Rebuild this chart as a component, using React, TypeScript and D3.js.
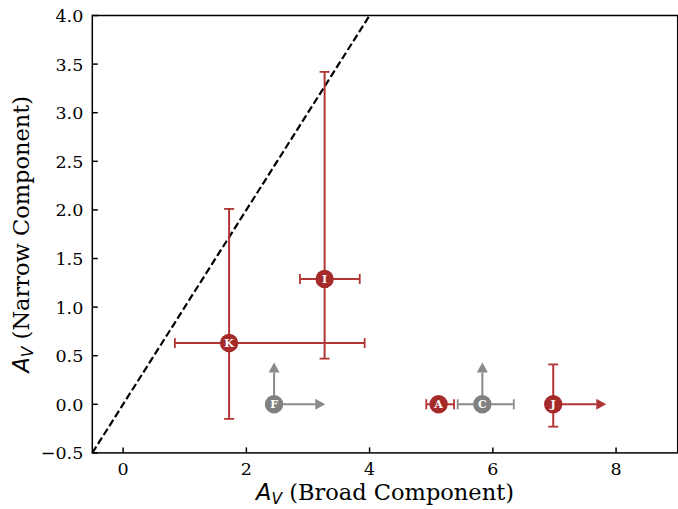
import React from "react";
import * as d3 from "d3";

const labels = ["K", "I", "F", "A", "C", "J"];
const xVals = [1.72, 3.27, 2.45, 5.12, 5.83, 6.98];
const yVals = [0.63, 1.29, 0, 0, 0, 0];
const xLo: (number | null)[] = [0.84, 2.87, null, 4.92, 5.43, null];
const xHi: (number | null)[] = [3.92, 3.84, null, 5.37, 6.34, null];
const yLo: (number | null)[] = [-0.15, 0.47, null, null, null, -0.23];
const yHi: (number | null)[] = [2.01, 3.42, null, null, null, 0.41];
const xArrowTo: (number | null)[] = [null, null, 3.28, null, null, 7.84];
const yArrowTo: (number | null)[] = [null, null, 0.43, null, 0.43, null];
const groups = ["det", "det", "lim", "det", "lim", "det"];
const xTicks = [0, 2, 4, 6, 8];
const yTicks = [-0.5, 0, 0.5, 1, 1.5, 2, 2.5, 3, 3.5, 4];
const oneToOne = [-0.5, 4.5];

const W = 678;
const H = 509;
const left = 92.3;
const right = 677.7;
const top = 15.5;
const bottom = 452.9;

const colors: Record<string, { mark: string; bar: string }> = {
  det: { mark: "#a52a2a", bar: "#b03535" },
  lim: { mark: "#808080", bar: "#8a8a8a" },
};

export default function App() {
  const x = d3.scaleLinear().domain([-0.5, 9]).range([left, right]);
  const y = d3.scaleLinear().domain([-0.5, 4]).range([bottom, top]);
  const serif = "'DejaVu Serif', serif";
  const sans = "'DejaVu Sans', sans-serif";
  const cap = 5;
  const lineGen = d3
    .line<number>()
    .x((d) => x(d))
    .y((d) => y(d));

  const arrow = (
    x0: number,
    y0: number,
    x1: number,
    y1: number,
    color: string,
    key: string
  ) => {
    const dx = x1 - x0;
    const dy = y1 - y0;
    const len = Math.hypot(dx, dy);
    const ux = dx / len;
    const uy = dy / len;
    const hl = 10;
    const hw = 5.5;
    const bx = x1 - ux * hl;
    const by = y1 - uy * hl;
    const px = -uy;
    const py = ux;
    return (
      <g key={key}>
        <line x1={x0} y1={y0} x2={bx} y2={by} stroke={color} strokeWidth={2} />
        <path
          d={`M${x1},${y1}L${bx + px * hw},${by + py * hw}L${bx - px * hw},${by - py * hw}Z`}
          fill={color}
        />
      </g>
    );
  };

  return (
    <svg
      width={W}
      height={H}
      style={{ position: "absolute", left: 0, top: 0, background: "#fff" }}
    >
      <defs>
        <clipPath id="plotclip">
          <rect x={left} y={top} width={right - left} height={bottom - top} />
        </clipPath>
      </defs>
      <rect x={0} y={0} width={W} height={H} fill="#fff" />

      <path
        d={lineGen(oneToOne) || ""}
        clipPath="url(#plotclip)"
        fill="none"
        stroke="#000"
        strokeWidth={2.2}
        strokeDasharray="7.4,3.2"
      />

      {labels.map((lab, i) => {
        const c = colors[groups[i]];
        const cx = x(xVals[i]);
        const cy = y(yVals[i]);
        const els: React.ReactNode[] = [];
        const lo = xLo[i];
        const hi = xHi[i];
        if (lo !== null && hi !== null) {
          els.push(
            <line key="xb" x1={x(lo)} x2={x(hi)} y1={cy} y2={cy} stroke={c.bar} strokeWidth={2} />,
            <line key="xc1" x1={x(lo)} x2={x(lo)} y1={cy - cap} y2={cy + cap} stroke={c.bar} strokeWidth={1.8} />,
            <line key="xc2" x1={x(hi)} x2={x(hi)} y1={cy - cap} y2={cy + cap} stroke={c.bar} strokeWidth={1.8} />
          );
        }
        const ylo = yLo[i];
        const yhi = yHi[i];
        if (ylo !== null && yhi !== null) {
          els.push(
            <line key="yb" x1={cx} x2={cx} y1={y(ylo)} y2={y(yhi)} stroke={c.bar} strokeWidth={2} />,
            <line key="yc1" x1={cx - cap} x2={cx + cap} y1={y(ylo)} y2={y(ylo)} stroke={c.bar} strokeWidth={1.8} />,
            <line key="yc2" x1={cx - cap} x2={cx + cap} y1={y(yhi)} y2={y(yhi)} stroke={c.bar} strokeWidth={1.8} />
          );
        }
        const xa = xArrowTo[i];
        if (xa !== null) els.push(arrow(cx, cy, x(xa), cy, c.bar, "xa"));
        const ya = yArrowTo[i];
        if (ya !== null) els.push(arrow(cx, cy, cx, y(ya), c.bar, "ya"));
        return <g key={lab}>{els}</g>;
      })}

      {labels.map((lab, i) => {
        const c = colors[groups[i]];
        const cx = x(xVals[i]);
        const cy = y(yVals[i]);
        return (
          <g key={"m" + lab}>
            <circle cx={cx} cy={cy} r={9.2} fill={c.mark} />
            <text
              x={cx}
              y={cy + 4}
              textAnchor="middle"
              fill="#fff"
              fontFamily={serif}
              fontWeight="bold"
              fontSize={11}
            >
              {lab}
            </text>
          </g>
        );
      })}

      {/* spines */}
      <rect
        x={left}
        y={top}
        width={right - left}
        height={bottom - top}
        fill="none"
        stroke="#000"
        strokeWidth={1.5}
      />

      {xTicks.map((t) => (
        <g key={"xt" + t}>
          <line x1={x(t)} x2={x(t)} y1={bottom} y2={bottom - 5.5} stroke="#000" strokeWidth={1.5} />
          <text
            x={x(t)}
            y={bottom + 22}
            textAnchor="middle"
            fontFamily={serif}
            fontSize={17.5}
            fill="#000"
          >
            {t}
          </text>
        </g>
      ))}
      {yTicks.map((t) => (
        <g key={"yt" + t}>
          <line x1={left} x2={left + 5.5} y1={y(t)} y2={y(t)} stroke="#000" strokeWidth={1.5} />
          <text
            x={left - 9}
            y={y(t) + 6.5}
            textAnchor="end"
            fontFamily={serif}
            fontSize={17.5}
            fill="#000"
          >
            {t < 0 ? "\u2212" + Math.abs(t).toFixed(1) : t.toFixed(1)}
          </text>
        </g>
      ))}

      <text
        x={(left + right) / 2}
        y={500}
        textAnchor="middle"
        fontFamily={serif}
        fontSize={22.5}
        fill="#000"
      >
        <tspan fontFamily={sans} fontStyle="italic">A</tspan>
        <tspan fontFamily={sans} fontStyle="italic" fontSize={15.5} dy={4}>V</tspan>
        <tspan dy={-4}> (Broad Component)</tspan>
      </text>

      <text
        transform={`translate(${29},${(top + bottom) / 2}) rotate(-90)`}
        textAnchor="middle"
        fontFamily={serif}
        fontSize={22.5}
        fill="#000"
      >
        <tspan fontFamily={sans} fontStyle="italic">A</tspan>
        <tspan fontFamily={sans} fontStyle="italic" fontSize={15.5} dy={4}>V</tspan>
        <tspan dy={-4}> (Narrow Component)</tspan>
      </text>
    </svg>
  );
}
